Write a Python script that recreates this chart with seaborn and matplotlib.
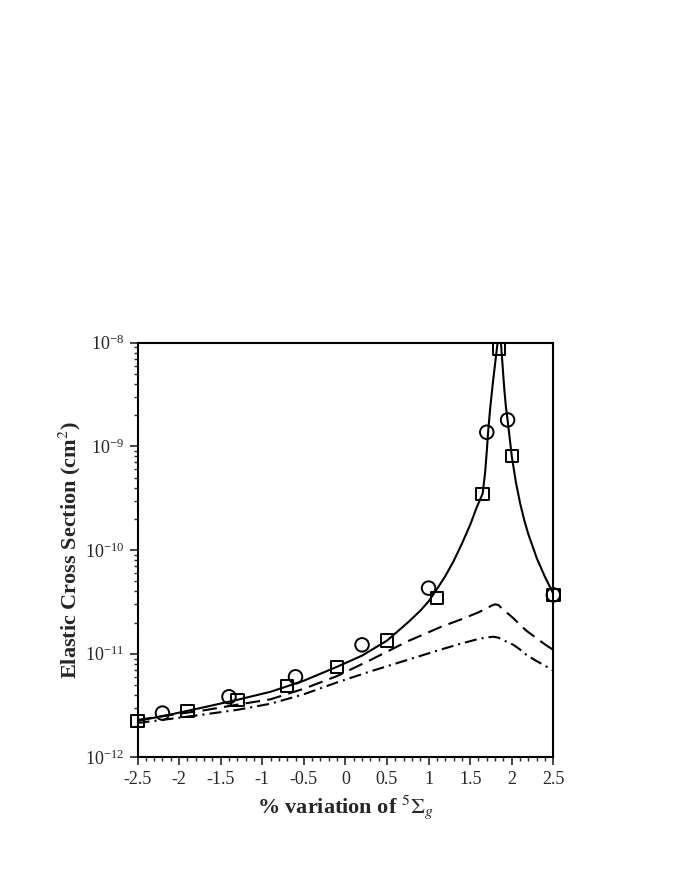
import numpy as np
import pandas as pd
import matplotlib
matplotlib.use('Agg')
import matplotlib.pyplot as plt
import matplotlib.ticker as mticker
import seaborn as sns

# curves (x = % variation, y = cross section in cm^2)
solid_x = [-2.5, -2.1, -1.7, -1.3, -0.9, -0.5, -0.1, 0.2, 0.5, 0.75, 0.9, 1.0, 1.1, 1.2,
           1.3, 1.4, 1.5, 1.58, 1.65, 1.68, 1.70, 1.715, 1.74, 1.77, 1.80, 1.83, 1.85,
           1.87, 1.89, 1.91, 1.93, 1.95, 2.0, 2.05, 2.1, 2.15, 2.2, 2.3, 2.4, 2.5]
solid_y = [2.25e-12, 2.6e-12, 3.05e-12, 3.6e-12, 4.3e-12, 5.5e-12, 7.5e-12, 9.6e-12, 1.34e-11,
           2.0e-11, 2.6e-11, 3.2e-11, 4.2e-11, 5.6e-11, 7.8e-11, 1.15e-10, 1.75e-10, 2.6e-10,
           3.5e-10, 5.6e-10, 9.0e-10, 1.35e-9, 2.3e-9, 3.9e-9, 6.3e-9, 1.0e-8, 1.25e-8,
           1.0e-8, 6.0e-9, 3.6e-9, 2.4e-9, 1.8e-9, 8.1e-10, 4.5e-10, 2.85e-10, 1.95e-10,
           1.42e-10, 8.4e-11, 5.5e-11, 3.8e-11]

dash_x = [-2.5, -2.1, -1.7, -1.3, -0.9, -0.5, -0.1, 0.3, 0.74, 1.15, 1.4, 1.6, 1.7, 1.76,
          1.8, 1.84, 1.88, 2.02, 2.1, 2.18, 2.3, 2.4, 2.5]
dash_y = [2.3e-12, 2.57e-12, 2.85e-12, 3.23e-12, 3.64e-12, 4.6e-12, 6.1e-12, 8.7e-12, 1.31e-11,
          1.82e-11, 2.16e-11, 2.51e-11, 2.75e-11, 2.92e-11, 3.0e-11, 2.95e-11, 2.75e-11,
          2.2e-11, 1.9e-11, 1.66e-11, 1.41e-11, 1.23e-11, 1.09e-11]

dashdot_x = [-2.5, -2.1, -1.7, -1.3, -0.9, -0.5, -0.1, 0.3, 0.74, 1.15, 1.4, 1.6, 1.7, 1.78,
             1.84, 1.9, 2.02, 2.1, 2.18, 2.3, 2.4, 2.5]
dashdot_y = [2.15e-12, 2.36e-12, 2.6e-12, 2.88e-12, 3.3e-12, 4.07e-12, 5.3e-12, 6.76e-12,
             8.7e-12, 1.1e-11, 1.26e-11, 1.39e-11, 1.44e-11, 1.46e-11, 1.43e-11, 1.35e-11,
             1.22e-11, 1.1e-11, 9.7e-12, 8.5e-12, 7.67e-12, 6.9e-12]

# symbols
circle_x = [-2.2, -1.4, -0.6, 0.2, 1.0, 1.7, 1.95, 2.5]
circle_y = [2.68e-12, 3.85e-12, 6.0e-12, 1.22e-11, 4.3e-11, 1.37e-9, 1.8e-9, 3.7e-11]

square_x = [-2.5, -1.9, -1.3, -0.7, -0.1, 0.5, 1.1, 1.65, 1.85, 2.0, 2.5]
square_y = [2.26e-12, 2.8e-12, 3.59e-12, 4.92e-12, 7.5e-12, 1.34e-11, 3.43e-11, 3.47e-10,
            8.7e-9, 8.1e-10, 3.7e-11]

x_ticks = [-2.5, -2, -1.5, -1, -0.5, 0, 0.5, 1, 1.5, 2, 2.5]
x_ticklabels = ['-2.5', '-2', '-1.5', '-1', '-0.5', '0', '0.5', '1', '1.5', '2', '2.5']
y_ticks = [1e-12, 1e-11, 1e-10, 1e-9, 1e-8]

sns.set_style('white')
plt.rcParams['font.family'] = ['Liberation Serif', 'DejaVu Serif']
plt.rcParams['mathtext.fontset'] = 'stix'

fig = plt.figure(figsize=(6.92, 8.96), dpi=100)
ax = fig.add_axes([0.1987, 0.1546, 0.6009, 0.4629])

sns.lineplot(x=solid_x, y=solid_y, sort=False, color='black', lw=1.5, ax=ax)
sns.lineplot(x=dash_x, y=dash_y, sort=False, color='black', lw=1.5,
             linestyle=(0, (7, 3.5)), ax=ax)
sns.lineplot(x=dashdot_x, y=dashdot_y, sort=False, color='black', lw=1.5,
             linestyle=(0, (5.8, 2.4, 1, 2.4)), ax=ax)

sns.scatterplot(x=circle_x, y=circle_y, marker='o', s=95, facecolors='none',
                edgecolors='black', linewidths=1.4, clip_on=False, zorder=5, ax=ax)
sns.scatterplot(x=square_x, y=square_y, marker='s', s=80, facecolors='none',
                edgecolors='black', linewidths=1.4, clip_on=False, zorder=5, ax=ax)

ax.set_yscale('log')
ax.set_xlim(-2.5, 2.5)
ax.set_ylim(1e-12, 1e-8)

ax.set_xticks(x_ticks)
ax.set_xticklabels(x_ticklabels)
ax.xaxis.set_minor_locator(mticker.MultipleLocator(0.1))
ax.set_yticks(y_ticks)
ax.yaxis.set_minor_locator(mticker.LogLocator(base=10, subs=np.arange(2, 10), numticks=20))
ax.yaxis.set_minor_formatter(mticker.NullFormatter())

ax.tick_params(axis='both', which='major', direction='out', length=6, width=1.2,
               labelsize=13, bottom=True, left=True, top=False, right=False)
ax.tick_params(axis='both', which='minor', direction='out', length=3, width=1,
               bottom=True, left=True, top=False, right=False)

for sp in ax.spines.values():
    sp.set_linewidth(1.5)
    sp.set_color('black')

ax.set_xlabel(r'% variation of $^{5}\Sigma_{g}$', fontsize=16, fontweight='bold', labelpad=4)
ax.set_ylabel(r'Elastic Cross Section (cm$^{2}$)', fontsize=16, fontweight='bold', labelpad=1)

fig.savefig('out.png', dpi=100)
